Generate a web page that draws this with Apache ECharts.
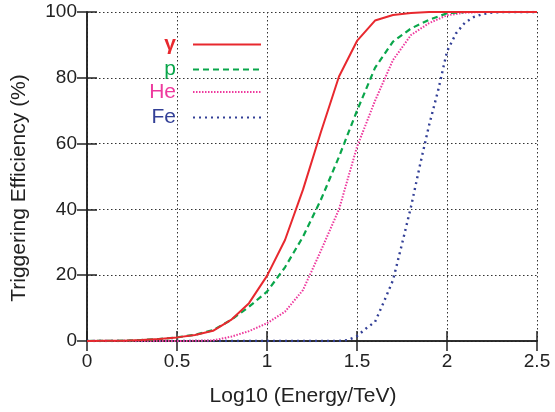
<!DOCTYPE html>
<html>
<head>
<meta charset="utf-8">
<script src="https://cdn.jsdelivr.net/npm/echarts@6/dist/echarts.min.js"></script>
<style>
html,body{margin:0;padding:0;background:#fff;}
#c{width:555px;height:412px;}
</style>
</head>
<body>
<div id="c"></div>
<script>
var energy = [0,0.1,0.2,0.3,0.4,0.5,0.6,0.7,0.8,0.9,1.0,1.1,1.2,1.3,1.4,1.5,1.6,1.7,1.8,1.9,2.0,2.1,2.2,2.3,2.4,2.5];
var gammaEff = [0,0.05,0.1,0.3,0.6,1.1,1.8,3.1,6.4,11.5,19.8,30.7,46,63.6,80.4,91.2,97.4,99.1,99.7,100,100,100,100,100,100,100];
var protonEff = [0,0.05,0.1,0.3,0.6,1.1,1.9,3.3,6.4,10.4,15,22.4,31.7,43,56,70,83,91,95,97.6,99.6,100,100,100,100,100];
var heliumEff = [0,0,0,0,0,0,0.05,0.2,1.3,3,5.4,8.9,15.5,27.5,40,59,73,85.4,93,96.6,99,99.8,100,100,100,100];
var ironEnergy = [0,0.5,1.0,1.4,1.45,1.5,1.55,1.6,1.65,1.7,1.75,1.8,1.85,1.9,1.95,2.0,2.05,2.1,2.15,2.2,2.25,2.3,2.4,2.5];
var ironEff = [0,0,0,0,0.3,1.5,3.8,5.8,12,18.5,29.5,40.8,53.5,65.5,76,88,93.5,96.8,98.5,99.4,99.8,100,100,100];
var seriesNames = ['γ','p','He','Fe'];
var seriesColors = ['#e8282e','#0aa64b','#ee3a9e','#323f96'];
var xTicks = {min:0, max:2.5, interval:0.5};
var yTicks = {min:0, max:100, interval:20};

function pairs(xs, ys){ return xs.map(function(x,i){ return [x, ys[i]]; }); }

var chart = echarts.init(document.getElementById('c'));
var font = '"Liberation Sans", Arial, Helvetica, sans-serif';
var axisLine = {show:true, lineStyle:{color:'#222', width:1.5}};
var tick = {show:true, inside:true, length:10, lineStyle:{color:'#222', width:1.5}};
var grid = {show:true, lineStyle:{color:'#333', width:1, type:[1.5,2.5]}};

var lineTypes = ['solid',[6,4],[1.5,1.5],[2,4]];
var widths = [2,2.2,2,2.4];
var allX = [energy, energy, energy, ironEnergy];
var allData = [gammaEff, protonEff, heliumEff, ironEff];
var legendTops = [34,59,81.5,107];

var series = seriesNames.map(function(n,i){
  return {
    name:n, type:'line', data:pairs(allX[i], allData[i]), symbol:'none',
    lineStyle:{color:seriesColors[i], width:widths[i], type:lineTypes[i]},
    itemStyle:{color:seriesColors[i]},
    z: 10-i
  };
});

var legends = seriesNames.map(function(n,i){
  return {
    right: 293, top: legendTops[i], orient:'vertical', align:'right', padding:0,
    itemWidth: 68, itemHeight: 14, selectedMode:false,
    itemStyle:{color:'rgba(0,0,0,0)', borderWidth:0, opacity:0},
    data:[{name:n, textStyle:{color:seriesColors[i], fontSize:21, fontFamily:font, fontWeight: i===0?'bold':'normal', padding:[0,12,0,0]}}]
  };
});

chart.setOption({
  animation:false,
  backgroundColor:'#fff',
  textStyle:{fontFamily:font},
  grid:{left:87, right:18, top:12, bottom:71},
  legend: legends,
  xAxis:[{
    type:'value', position:'bottom', min:xTicks.min, max:xTicks.max, interval:xTicks.interval,
    axisLine:axisLine, axisTick:tick, splitLine:grid,
    axisLabel:{fontSize:19, color:'#222', margin:11, fontFamily:font},
    name:'Log10 (Energy/TeV)', nameLocation:'middle', nameGap:45,
    nameTextStyle:{fontSize:21, color:'#222', fontFamily:font, padding:[0,18,0,0]}
  },{
    type:'value', position:'top', min:xTicks.min, max:xTicks.max, interval:xTicks.interval,
    axisLine:axisLine, axisTick:tick, splitLine:{show:false}, axisLabel:{show:false}
  }],
  yAxis:[{
    type:'value', position:'left', min:yTicks.min, max:yTicks.max, interval:yTicks.interval,
    axisLine:axisLine, axisTick:tick, splitLine:grid,
    axisLabel:{fontSize:19, color:'#222', margin:10, fontFamily:font},
    name:'Triggering Efficiency (%)', nameLocation:'middle', nameGap:57,
    nameTextStyle:{fontSize:21, color:'#222', fontFamily:font, padding:[0,23,0,0]}
  },{
    type:'value', position:'right', min:yTicks.min, max:yTicks.max, interval:yTicks.interval,
    axisLine:axisLine, axisTick:tick, splitLine:{show:false}, axisLabel:{show:false}
  }],
  series: series
});
</script>
</body>
</html>
